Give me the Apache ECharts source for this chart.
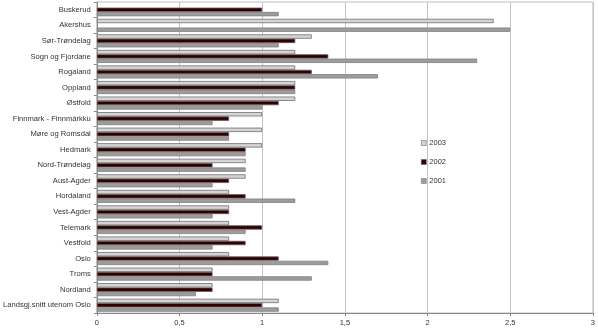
<!DOCTYPE html>
<html>
<head>
<meta charset="utf-8">
<script src="https://cdn.jsdelivr.net/npm/echarts@6/dist/echarts.min.js"></script>
<style>
  html, body { margin: 0; padding: 0; background: #ffffff; }
  #chart { width: 598px; height: 330px; }
</style>
</head>
<body>
<div id="chart"></div>
<script>
// Counties, listed top to bottom
const categories = [
  'Buskerud', 'Akershus', 'Sør-Trøndelag', 'Sogn og Fjordane', 'Rogaland',
  'Oppland', 'Østfold', 'Finnmark - Finnmárkku', 'Møre og Romsdal', 'Hedmark',
  'Nord-Trøndelag', 'Aust-Agder', 'Hordaland', 'Vest-Agder', 'Telemark',
  'Vestfold', 'Oslo', 'Troms', 'Nordland', 'Landsgj.snitt utenom Oslo'
];

// Values per year (null = no value)
const values2003 = [null, 2.4, 1.3, 1.2, 1.2, 1.2, 1.2, 1.0, 1.0, 1.0, 0.9, 0.9, 0.8, 0.8, 0.8, 0.8, 0.8, 0.7, 0.7, 1.1];
const values2002 = [1.0, null, 1.2, 1.4, 1.3, 1.2, 1.1, 0.8, 0.8, 0.9, 0.7, 0.8, 0.9, 0.8, 1.0, 0.9, 1.1, 0.7, 0.7, 1.0];
const values2001 = [1.1, 2.5, 1.1, 2.3, 1.7, 1.2, 1.0, 0.7, 0.8, 0.9, 0.9, 0.7, 1.2, 0.7, 0.9, 0.7, 1.4, 1.3, 0.6, 1.1];

const xTicks = [0, 0.5, 1, 1.5, 2, 2.5, 3];

const FONT = 'Liberation Sans, Arial, sans-serif';

const chart = echarts.init(document.getElementById('chart'), null, { renderer: 'canvas' });

function barSeries(name, data, fill, border) {
  return {
    name: name,
    type: 'bar',
    data: data,
    barGap: '0%',
    barCategoryGap: '16%',
    itemStyle: { color: fill, borderColor: border, borderWidth: 0.8 },
    emphasis: { disabled: true }
  };
}

chart.setOption({
  animation: false,
  backgroundColor: '#ffffff',
  grid: { left: 94, right: 3, top: 2, bottom: 17, containLabel: false,
          show: true, borderColor: '#c0c0c0', borderWidth: 1 },
  legend: {
    orient: 'vertical',
    left: 416, top: 134,
    itemWidth: 5, itemHeight: 5, itemGap: 11,
    data: ['2003', '2002', '2001'],
    itemStyle: { borderWidth: 0.6 },
    textStyle: { fontFamily: FONT, fontSize: 7.5, color: '#333333', padding: [0, 0, 0, -2] },
    icon: 'rect'
  },
  xAxis: {
    type: 'value',
    min: 0, max: 3, interval: 0.5,
    axisLine: { show: true, lineStyle: { color: '#888888', width: 1 } },
    axisTick: { show: true, length: 3, lineStyle: { color: '#888888' } },
    splitLine: { show: true, lineStyle: { color: '#c4c4c4', width: 1 } },
    axisLabel: {
      fontFamily: FONT, fontSize: 7.5, color: '#333333', margin: 6,
      formatter: v => xTicks.includes(v) ? String(v).replace('.', ',') : ''
    }
  },
  yAxis: {
    type: 'category',
    inverse: true,
    data: categories,
    axisLine: { show: true, lineStyle: { color: '#888888', width: 1 } },
    axisTick: { show: true, length: 3, lineStyle: { color: '#888888' } },
    axisLabel: { fontFamily: FONT, fontSize: 7.6, color: '#333333', margin: 6 }
  },
  series: [
    barSeries('2003', values2003, '#d4d4d4', '#707070'),
    barSeries('2002', values2002, '#330000', '#606060'),
    barSeries('2001', values2001, '#9c9c9c', '#808080')
  ]
});
</script>
</body>
</html>
